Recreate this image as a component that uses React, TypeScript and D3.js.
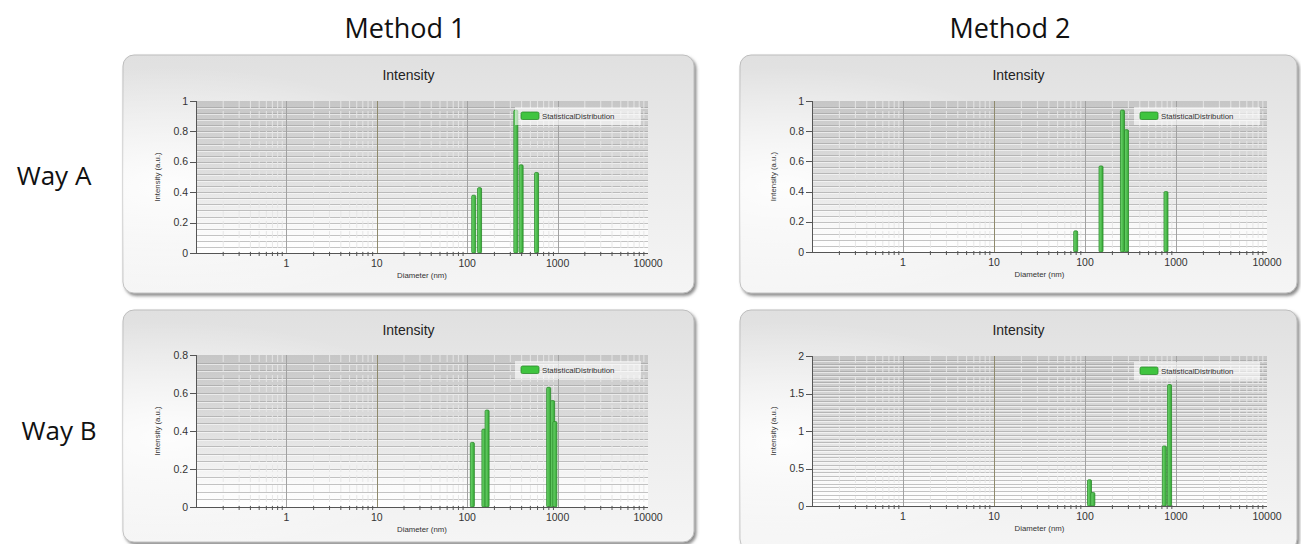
import React from "react";
import * as d3 from "d3";

// ---------- data ----------
const columnTitles = ["Method 1", "Method 2"];
const rowTitles = ["Way A", "Way B"];
const panelTitle = "Intensity";
const xAxisTitle = "Diameter (nm)";
const yAxisTitle = "Intensity (a.u.)";
const legendLabel = "StatisticalDistribution";
const xTickValues = [1, 10, 100, 1000, 10000];

// Method 1 / Way A
const m1aDiameter = [118, 137, 345, 395, 585];
const m1aIntensity = [0.38, 0.43, 0.94, 0.58, 0.53];
// Method 2 / Way A
const m2aDiameter = [79, 150, 258, 286, 776];
const m2aIntensity = [0.14, 0.57, 0.94, 0.81, 0.4];
// Method 1 / Way B
const m1bDiameter = [114, 153, 166, 796, 881, 933];
const m1bIntensity = [0.34, 0.41, 0.51, 0.63, 0.56, 0.45];
// Method 2 / Way B
const m2bDiameter = [112, 122, 745, 850];
const m2bIntensity = [0.35, 0.18, 0.8, 1.62];

const yTicksA = [0, 0.2, 0.4, 0.6, 0.8, 1];
const yTicksB1 = [0, 0.2, 0.4, 0.6, 0.8];
const yTicksB2 = [0, 0.5, 1, 1.5, 2];

type Panel = {
  id: string;
  card: { x: number; y: number; w: number; h: number };
  plot: { l: number; r: number; t: number; b: number };
  yMax: number;
  yTicks: number[];
  yMinorStep: number;
  diam: number[];
  vals: number[];
};

const panels: Panel[] = [
  { id: "p1", card: { x: 123, y: 55, w: 571, h: 238 }, plot: { l: 196, r: 648, t: 101, b: 253 }, yMax: 1, yTicks: yTicksA, yMinorStep: 0.04, diam: m1aDiameter, vals: m1aIntensity },
  { id: "p2", card: { x: 740, y: 55, w: 557, h: 238 }, plot: { l: 812, r: 1267, t: 101, b: 252 }, yMax: 1, yTicks: yTicksA, yMinorStep: 0.04, diam: m2aDiameter, vals: m2aIntensity },
  { id: "p3", card: { x: 123, y: 310, w: 571, h: 232 }, plot: { l: 196, r: 648, t: 355, b: 507 }, yMax: 0.8, yTicks: yTicksB1, yMinorStep: 0.04, diam: m1bDiameter, vals: m1bIntensity },
  { id: "p4", card: { x: 740, y: 310, w: 557, h: 240 }, plot: { l: 812, r: 1267, t: 356, b: 506 }, yMax: 2, yTicks: yTicksB2, yMinorStep: 0.05, diam: m2bDiameter, vals: m2bIntensity },
];

const FONT = "'Liberation Sans', Arial, sans-serif";
const BIG = "'Open Sans', sans-serif";

function fmt(v: number) {
  return String(+v.toFixed(2));
}

function ChartPanel({ p }: { p: Panel }) {
  const xs = d3.scaleLog().domain([0.1, 10000]).range([p.plot.l, p.plot.r]);
  const ys = d3.scaleLinear().domain([0, p.yMax]).range([p.plot.b, p.plot.t]);
  const minorX: number[] = [];
  for (let dec = 0.1; dec < 10000; dec *= 10) {
    for (let k = 2; k <= 9; k++) minorX.push(dec * k);
  }
  const majorX = [1, 10, 100, 1000];
  const nMinor = Math.round(p.yMax / p.yMinorStep);
  const minorY = d3.range(1, nMinor).map((i) => i * p.yMinorStep);
  const cx = p.card.x + p.card.w / 2;
  const plotCx = (p.plot.l + p.plot.r) / 2;
  const plotCy = (p.plot.t + p.plot.b) / 2;
  const legX = p.plot.r - 133;
  const legY = p.plot.t + 6;
  return (
    <g>
      <rect x={p.card.x} y={p.card.y} width={p.card.w} height={p.card.h} rx={11} fill="url(#cardGrad)" stroke="#bdbdbd" strokeWidth={1} filter="url(#shadow)" />
      <rect x={p.card.x} y={p.card.y} width={p.card.w} height={p.card.h} rx={11} fill="url(#cardGlow)" />
      <text x={cx} y={p.card.y + 25} textAnchor="middle" fontFamily={FONT} fontSize={14} fill="#222">{panelTitle}</text>
      {/* plot background */}
      <rect x={p.plot.l} y={p.plot.t} width={p.plot.r - p.plot.l} height={p.plot.b - p.plot.t} fill="url(#plotGrad)" />
      {/* horizontal grid */}
      {minorY.map((v, i) => (
        <g key={"hy" + i}>
          <line x1={p.plot.l} x2={p.plot.r} y1={Math.round(ys(v)) + 0.5} y2={Math.round(ys(v)) + 0.5} stroke="#9e9e9e" strokeWidth={1} opacity={0.6} />
          <line x1={p.plot.l} x2={p.plot.r} y1={Math.round(ys(v)) + 1.5} y2={Math.round(ys(v)) + 1.5} stroke="#ffffff" strokeWidth={1} opacity={0.55} />
        </g>
      ))}
      {/* vertical minor grid */}
      {minorX.map((v, i) => (
        <line key={"mx" + i} x1={xs(v)} x2={xs(v)} y1={p.plot.t} y2={p.plot.b} stroke="#e6e6e6" strokeWidth={1} strokeDasharray="7,3" opacity={0.95} />
      ))}
      {majorX.map((v, i) => (
        <line key={"Mx" + i} x1={Math.round(xs(v)) + 0.5} x2={Math.round(xs(v)) + 0.5} y1={p.plot.t} y2={p.plot.b} stroke={v === 10 ? "#8f8a6c" : "#a2a2a2"} strokeWidth={1} />
      ))}
      {/* bars */}
      {p.diam.map((d, i) => {
        const x = xs(d);
        const y = ys(p.vals[i]);
        return (
          <rect key={"b" + i} x={x - 2} y={y} width={4} height={p.plot.b - y} rx={1.2} fill="url(#barGrad)" stroke="#2b8a2b" strokeWidth={0.8} />
        );
      })}
      {/* legend */}
      <rect x={legX} y={legY} width={126} height={18} fill="#ffffff" opacity={0.6} />
      <rect x={legX + 6} y={legY + 5} width={18} height={7.5} rx={1.5} fill="#3fc43f" stroke="#2a8a2a" strokeWidth={0.8} />
      <text x={legX + 27} y={legY + 11.8} fontFamily={FONT} fontSize={7.8} fill="#333">{legendLabel}</text>
      {/* axes */}
      <line x1={p.plot.l} x2={p.plot.r} y1={p.plot.b + 0.5} y2={p.plot.b + 0.5} stroke="#555" strokeWidth={1} />
      <line x1={p.plot.l + 0.5} x2={p.plot.l + 0.5} y1={p.plot.t} y2={p.plot.b} stroke="#555" strokeWidth={1} />
      {minorX.map((v, i) => (
        <line key={"tx" + i} x1={xs(v)} x2={xs(v)} y1={p.plot.b - 1} y2={p.plot.b + 3} stroke="#555" strokeWidth={1} />
      ))}
      {xTickValues.map((v, i) => (
        <text key={"xl" + i} x={xs(v)} y={p.plot.b + 14} textAnchor="middle" fontFamily={FONT} fontSize={10.5} fill="#333">{String(v)}</text>
      ))}
      {p.yTicks.map((v, i) => (
        <g key={"yt" + i}>
          <line x1={p.plot.l - 6} x2={p.plot.l} y1={Math.round(ys(v)) + 0.5} y2={Math.round(ys(v)) + 0.5} stroke="#555" strokeWidth={1} />
          <text x={p.plot.l - 8} y={ys(v) + 3.5} textAnchor="end" fontFamily={FONT} fontSize={10.5} fill="#333">{fmt(v)}</text>
        </g>
      ))}
      <text x={plotCx} y={p.plot.b + 25} textAnchor="middle" fontFamily={FONT} fontSize={7.8} fill="#333">{xAxisTitle}</text>
      <text transform={`translate(${p.plot.l - 36},${plotCy}) rotate(-90)`} textAnchor="middle" fontFamily={FONT} fontSize={7.8} fill="#333">{yAxisTitle}</text>
    </g>
  );
}

export default function App() {
  return (
    <svg width={1301} height={544} style={{ position: "absolute", left: 0, top: 0, background: "#fff" }}>
      <defs>
        <linearGradient id="cardGrad" x1="0" y1="0" x2="0" y2="1">
          <stop offset="0" stopColor="#e0e0e0" />
          <stop offset="0.5" stopColor="#ececec" />
          <stop offset="1" stopColor="#f5f5f5" />
        </linearGradient>
        <radialGradient id="cardGlow" cx="0.08" cy="0.55" r="0.5">
          <stop offset="0" stopColor="#ffffff" stopOpacity={0.9} />
          <stop offset="1" stopColor="#ffffff" stopOpacity={0} />
        </radialGradient>
        <linearGradient id="plotGrad" x1="0" y1="0" x2="0" y2="1">
          <stop offset="0" stopColor="#c6c6c6" />
          <stop offset="0.55" stopColor="#e2e2e2" />
          <stop offset="0.85" stopColor="#fafafa" />
          <stop offset="1" stopColor="#ffffff" />
        </linearGradient>
        <linearGradient id="barGrad" x1="0" y1="0" x2="1" y2="0">
          <stop offset="0" stopColor="#6fd66f" />
          <stop offset="1" stopColor="#35a835" />
        </linearGradient>
        <filter id="shadow" x="-5%" y="-5%" width="110%" height="115%">
          <feDropShadow dx="2" dy="2.5" stdDeviation="1.6" floodColor="#666" floodOpacity="0.75" />
        </filter>
      </defs>
      {panels.map((p) => (
        <ChartPanel key={p.id} p={p} />
      ))}
      <text x={405} y={38} textAnchor="middle" fontFamily={BIG} fontSize={27} fill="#111">{columnTitles[0]}</text>
      <text x={1010} y={38} textAnchor="middle" fontFamily={BIG} fontSize={27} fill="#111">{columnTitles[1]}</text>
      <text x={54} y={185} textAnchor="middle" fontFamily={BIG} fontSize={26} fill="#111">{rowTitles[0]}</text>
      <text x={59} y={440} textAnchor="middle" fontFamily={BIG} fontSize={26} fill="#111">{rowTitles[1]}</text>
    </svg>
  );
}
